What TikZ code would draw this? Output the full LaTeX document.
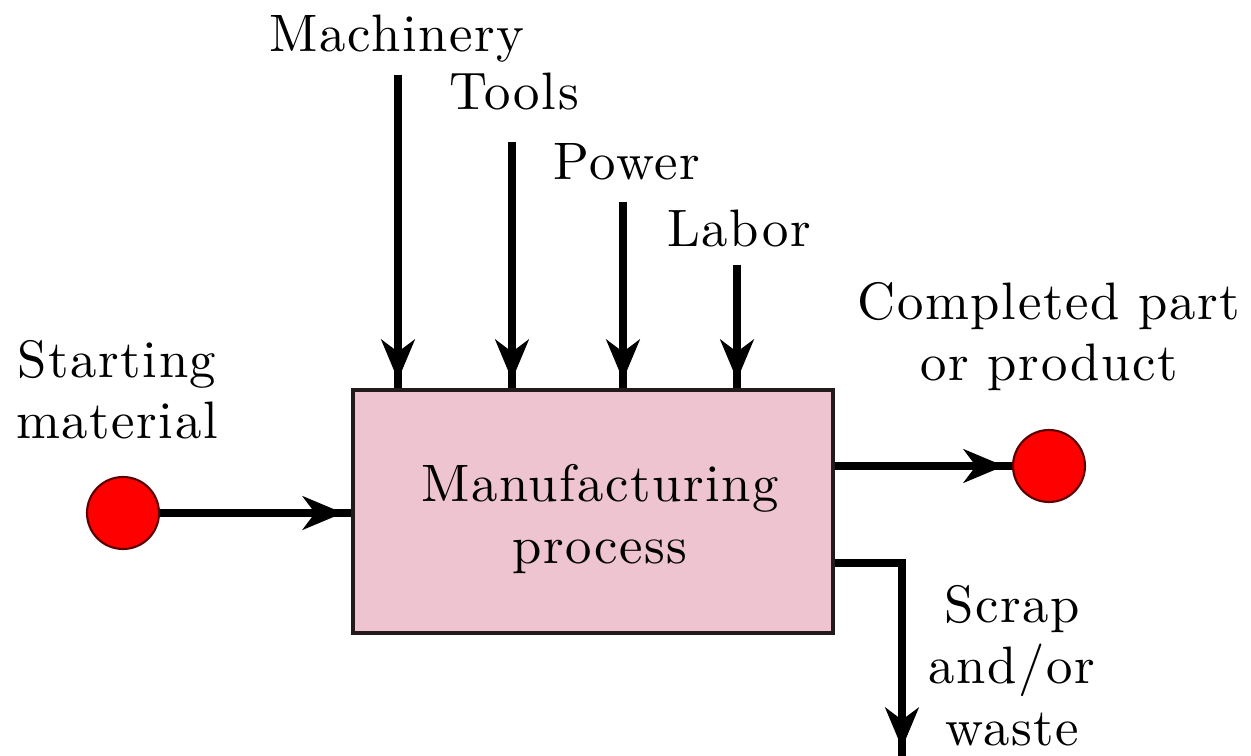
\documentclass[tikz,border=0pt]{standalone}
\usepackage{fontspec}
\newfontfamily\lblfont{lmroman10-regular.otf}[LetterSpace=3]
\usetikzlibrary{arrows.meta}
\definecolor{boxpink}{RGB}{238,196,208}
\definecolor{boxline}{RGB}{35,26,28}
\definecolor{dotred}{RGB}{255,0,0}
\definecolor{dotline}{RGB}{90,0,0}
\begin{document}
\begin{tikzpicture}[x=0.02cm,y=-0.02cm,
  lbl/.style={inner sep=0pt, align=center, font=\lblfont\fontsize{30}{35}\selectfont},
  flow/.style={line width=4pt, postaction={draw, line width=4pt, -{Stealth[length=23pt,width=19pt,inset=7pt]}, shorten >=4.5pt}},
  dot/.style={circle, minimum size=1.44cm, inner sep=0pt, fill=dotred, draw=dotline, line width=1.2pt},
  procbox/.style={rectangle, minimum width=9.6cm, minimum height=4.86cm, fill=boxpink, draw=boxline, line width=2.3pt}]
\useasboundingbox (0,0) rectangle (1251,756);
\node[procbox] (proc) at (593,511.5) {};
\node[lbl, anchor=base] (ptext) at (600,563) {Manufacturing\\process};
% inputs from above
\node[lbl, anchor=base] (mach) at (397,52) {Machinery};
\node[lbl, anchor=base] (tools) at (514,110) {Tools};
\node[lbl, anchor=base] (power) at (627,180) {Power};
\node[lbl, anchor=base] (labor) at (739,247) {Labor};
\coordinate (m1) at (398,75);
\coordinate (m2) at (512,142);
\coordinate (m3) at (623,202);
\coordinate (m4) at (737,265);
\draw[flow] (m1) -- (m1 |- proc.north);
\draw[flow] (m2) -- (m2 |- proc.north);
\draw[flow] (m3) -- (m3 |- proc.north);
\draw[flow] (m4) -- (m4 |- proc.north);
% starting material
\node[lbl, anchor=base] (stext) at (117,439) {Starting\\material};
\node[dot] (sdot) at (123,513) {};
\draw[flow] (sdot.east) -- (sdot.east -| proc.west);
% completed part
\node[lbl, anchor=base] (ctext) at (1049,381) {Completed part\\or product};
\node[dot] (cdot) at (1049,466) {};
\draw[flow] (cdot.west -| proc.east) -- (cdot.west);
% scrap
\node[lbl, anchor=base] (wtext) at (1012,745) {Scrap\\and/or\\waste};
\coordinate (wend) at (902,756);
\draw[flow] (proc.east |- 0,563) -| (wend);
\end{tikzpicture}
\end{document}
